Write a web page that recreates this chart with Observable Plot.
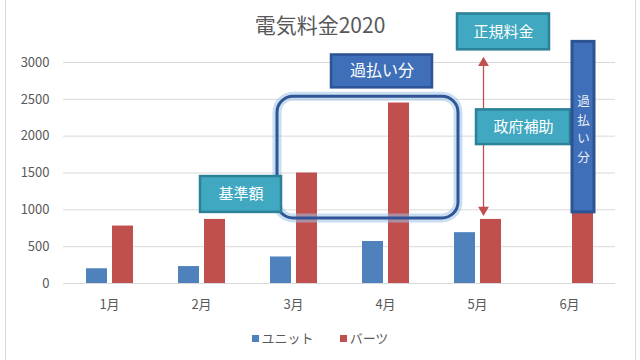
<!DOCTYPE html>
<html><head><meta charset="utf-8">
<script src="https://cdn.jsdelivr.net/npm/d3@7"></script>
<script src="https://cdn.jsdelivr.net/npm/@observablehq/plot@0.6"></script>
<style>
body{margin:0;background:#fff;}
#wrap{position:relative;width:640px;height:360px;overflow:hidden;font-family:"Noto Sans CJK JP","Noto Sans",sans-serif;background:#fff;}
#frame{position:absolute;left:5px;top:-2px;width:631px;height:364px;border:1px solid #d9d9d9;box-sizing:border-box;pointer-events:none;}
#title{position:absolute;left:0;width:640px;top:8px;text-align:center;font-size:21px;line-height:32px;color:#595959;}
#legend{position:absolute;top:329px;left:0;width:640px;display:flex;justify-content:center;gap:26px;font-size:13px;line-height:18px;color:#595959;}
#legend span.sw{display:inline-block;width:7px;height:7px;margin-right:3px;vertical-align:middle;position:relative;top:-1px;}
#chart{position:absolute;left:0;top:0;}
</style></head>
<body>
<div id="wrap">
  <div id="chart"></div>
  <div id="title"></div>
  <div id="legend"></div>
  <div id="frame"></div>
</div>
<script>
// ---- data ----
const title = "電気料金2020";
const months = ["1月","2月","3月","4月","5月","6月"];
const seriesNames = ["ユニット","バーツ"];
const unitValues = [200, 230, 360, 570, 690, null];
const partsValues = [780, 870, 1500, 2450, 870, 980];
const yTicks = [0, 500, 1000, 1500, 2000, 2500, 3000];
const seriesColors = ["#4f81bd", "#c0504d"];

// annotation texts
const labelRegular = "正規料金";
const labelOverpaid = "過払い分";
const labelBase = "基準額";
const labelSubsidy = "政府補助";

// ---- build ----
const rows = [];
months.forEach((m, i) => {
  if (unitValues[i] != null) rows.push({month: m, series: seriesNames[0], value: unitValues[i]});
  if (partsValues[i] != null) rows.push({month: m, series: seriesNames[1], value: partsValues[i]});
});

const teal = "#41a8c1", tealEdge = "#2b8196";
const blue = "#3f6fb8", blueEdge = "#2c5394";
const red = "#c0504d";

function box(month, y1, y2, insetLeft, insetRight, fill, stroke, sw, extra = {}) {
  return Plot.barY([{month, y1, y2}], {x: "month", y1: "y1", y2: "y2", insetLeft, insetRight, fill, stroke, strokeWidth: sw, ...extra});
}
function hline(month, y, insetLeft, insetRight) {
  return Plot.barY([{month, y1: y, y2: y}], {x: "month", y1: "y1", y2: "y2", insetLeft, insetRight, fill: "none", stroke: red, strokeWidth: 1.3});
}
function label(month, y, text, dx, size = 15, extra = {}) {
  return Plot.text([{month, y, text}], {x: "month", y: "y", text: "text", dx, fill: "white", fontSize: size, ...extra});
}

const chart = Plot.plot({
  width: 640,
  height: 318,
  marginTop: 62,
  marginBottom: 35,
  marginLeft: 63,
  marginRight: 25,
  style: {fontFamily: '"Noto Sans CJK JP","Noto Sans",sans-serif', fontSize: "13px", color: "#595959", background: "transparent", overflow: "visible"},
  x: {domain: months, padding: 0, tickSize: 0, tickPadding: 16, label: null},
  y: {domain: [0, 3000], ticks: yTicks, tickFormat: d => String(d), tickSize: 0, tickPadding: 14, label: null},
  marks: [
    Plot.ruleY(yTicks, {stroke: "#d9d9d9", strokeWidth: 1}),
    Plot.barY(rows.filter(d => d.series === seriesNames[0]), {x: "month", y: "value", fill: seriesColors[0], insetLeft: 23, insetRight: 48}),
    Plot.barY(rows.filter(d => d.series === seriesNames[1]), {x: "month", y: "value", fill: seriesColors[1], insetLeft: 49, insetRight: 22}),
    // reference lines
    hline("2月", 877, 45, -261),
    hline("5月", 3068, 32, -8),
    hline("6月", 979, 29, -5),
    // arrow
    Plot.ruleX([{month: "5月", y1: 3000, y2: 1000}], {x: "month", y1: "y1", y2: "y2", dx: 6, stroke: red, strokeWidth: 1.3}),
    Plot.dot([{month: "5月", y: 2995}], {x: "month", y: "y", dx: 6, symbol: "triangle", r: 4, fill: red, stroke: "none"}),
    Plot.dot([{month: "5月", y: 1000}], {x: "month", y: "y", dx: 6, symbol: "triangle", r: 4, fill: red, stroke: "none", rotate: 180}),
    // glow rounded rect
    box("3月", 2535, 884, 30, -119, "none", "#9dc3e6", 9, {rx: 16, strokeOpacity: 0.55}),
    box("3月", 2535, 884, 30, -119, "none", "#2f5597", 3, {rx: 16}),
    // boxes
    box("5月", 3659, 3172, 26, -26, teal, tealEdge, 2.5),
    label("5月", 3411, labelRegular, 26, 15),
    box("4月", 3102, 2656, -8, -1, blue, blueEdge, 2.5),
    label("4月", 2880, labelOverpaid, -3.5, 16),
    box("2月", 1452, 965, 45, -34, teal, tealEdge, 2.5),
    label("2月", 1209, labelBase, 39.5, 15),
    box("5月", 2357, 1886, 45, -47, teal, tealEdge, 2.5),
    label("5月", 2123, labelSubsidy, 46, 15),
    box("6月", 3280, 965, 49, 21, blue, blueEdge, 3),
    label("6月", 2110, labelOverpaid.split("").join("\n"), 14, 12.5, {lineHeight: 1.48, fillOpacity: 0.92})
  ]
});
document.getElementById("chart").appendChild(chart);
document.getElementById("title").textContent = title;
const lg = document.getElementById("legend");
seriesNames.forEach((s, i) => {
  const it = document.createElement("div");
  it.innerHTML = `<span class="sw" style="background:${seriesColors[i]}"></span>${s}`;
  lg.appendChild(it);
});
</script>
</body></html>
